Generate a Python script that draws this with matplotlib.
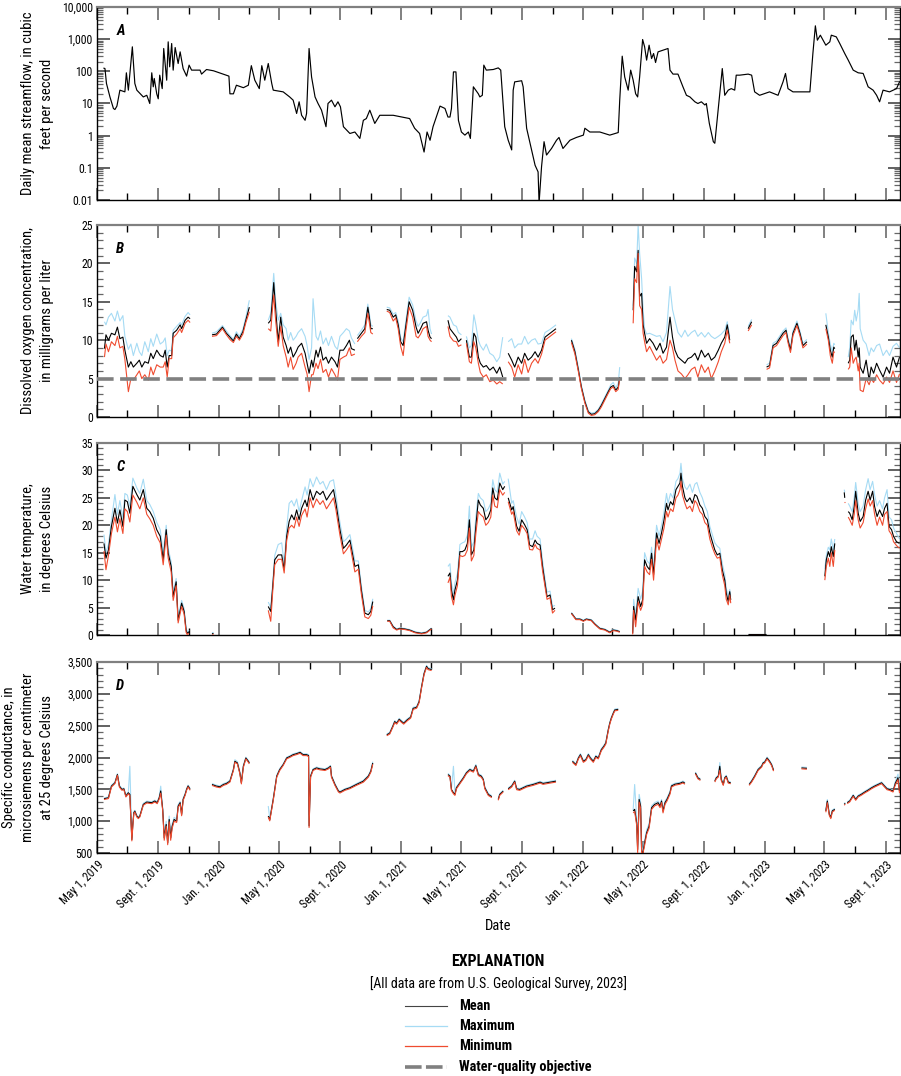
import datetime as dt
import numpy as np
import matplotlib
matplotlib.use("Agg")
import matplotlib.pyplot as plt
import matplotlib.dates as mdates
import matplotlib.ticker as mticker
import matplotlib.font_manager as fm
from matplotlib.lines import Line2D

# ---------------- font selection (condensed sans if available) ----------------
avail = {f.name for f in fm.fontManager.ttflist}
FONT = None
for nm in ["Liberation Sans Narrow", "Roboto Condensed", "Open Sans Condensed"]:
    if nm in avail:
        FONT = nm
        break
STRETCH = "normal"
if FONT is None:
    if any(f.fname.endswith("DejaVuSansCondensed.ttf") for f in fm.fontManager.ttflist):
        FONT = "DejaVu Sans"
        STRETCH = "condensed"
    else:
        FONT = "Liberation Sans"
plt.rcParams["font.family"] = [FONT, "DejaVu Sans"]
plt.rcParams["font.stretch"] = STRETCH

# ---------------- data (day offsets from 2019-05-01) ----------------
START = dt.datetime(2019, 5, 1)
END = dt.datetime(2023, 9, 30)

# Panel A: daily mean streamflow, cfs
flow_day = [14, 16, 19, 26, 33, 36, 40, 46, 56, 59, 63, 71, 76, 80, 93, 100, 106, 110, 113, 115,
            120, 123, 126, 131, 134, 140, 143, 146, 150, 153, 157, 163, 167, 173, 180, 185, 190, 207, 210, 220,
            234, 260, 265, 267, 274, 280, 294, 304, 310, 317, 326, 331, 337, 344, 351, 354, 374, 387, 394, 401,
            406, 411, 418, 421, 426, 431, 438, 444, 451, 460, 464, 471, 478, 484, 489, 495, 508, 518, 528, 535,
            541, 548, 558, 568, 595, 628, 638, 648, 657, 663, 669, 675, 689, 699, 705, 709, 712, 716, 721, 726,
            732, 739, 746, 750, 756, 766, 769, 774, 777, 782, 796, 806, 811, 819, 826, 833, 836, 839, 853, 856,
            863, 873, 880, 886, 888, 893, 898, 903, 913, 923, 928, 936, 950, 963, 977, 980, 990, 1010, 1030, 1047,
            1050, 1055, 1060, 1067, 1072, 1077, 1082, 1086, 1090, 1096, 1100, 1104, 1109, 1114, 1118, 1122, 1127, 1137, 1147, 1151,
            1157, 1167, 1177, 1184, 1191, 1201, 1207, 1214, 1221, 1224, 1230, 1238, 1241, 1244, 1251, 1256, 1261, 1268, 1274, 1281,
            1284, 1291, 1308, 1315, 1321, 1331, 1351, 1368, 1378, 1383, 1388, 1398, 1432, 1438, 1443, 1447, 1453, 1464, 1472, 1475,
            1485, 1492, 1502, 1509, 1519, 1529, 1539, 1549, 1559, 1566, 1572, 1579, 1592, 1606, 1612]
flow_cfs = [125, 122, 42, 16, 7, 6.5, 8.3, 26, 23, 90, 26, 578, 42, 26, 16, 18, 10, 90, 33, 60,
            20, 14, 76, 29, 513, 53, 826, 138, 733, 109, 550, 175, 403, 122, 71, 156, 109, 109, 82, 114,
            104, 76, 71, 20, 20, 37, 31, 37, 150, 53, 29, 150, 53, 175, 42, 26, 23, 16, 12.7, 4.9,
            11.3, 4.3, 3.0, 4.9, 513, 67, 16, 10, 6.2, 1.9, 10, 12.7, 7.9, 11.3, 7.9, 1.9, 1.17, 1.3, 0.82, 3.0,
            3.4, 6.2, 2.4, 4.3, 4.3, 3.4, 1.7, 1.17, 0.31, 1.3, 0.72, 1.9, 8.3, 7, 3.8, 3.8, 7, 96, 96, 3.0,
            1.3, 1.04, 1.3, 0.82, 33, 20, 16, 18, 156, 109, 114, 128, 109, 1.9, 0.72, 0.36, 26, 47, 51, 33,
            1.7, 0.36, 0.12, 0.075, 0.008, 0.11, 0.65, 0.25, 0.4, 0.72, 0.88, 0.4, 0.72, 0.88, 1.04, 1.7, 1.3, 1.3, 1.04, 1.25,
            12.7, 296, 67, 26, 109, 53, 20, 16, 67, 976, 578, 223, 650, 250, 358, 188, 403, 455, 513, 109,
            82, 82, 33, 18, 16, 11.3, 10, 11.3, 9, 10, 2.4, 0.65, 0.58, 1.7, 20, 122, 18, 26, 29, 26,
            76, 76, 82, 76, 23, 18, 23, 18, 47, 86, 29, 23, 23, 358, 2600, 930, 1330, 650, 826, 1330,
            1180, 733, 358, 223, 109, 90, 86, 33, 26, 18, 11.3, 26, 23, 29, 47]

# Panel B: dissolved oxygen, mg/L (segments separated by data gaps)
do_day = [
    [15, 18, 23, 29, 36, 41, 46, 52, 56, 63, 68, 73, 80, 85, 90, 96, 103, 108, 113, 120, 127, 133, 137, 141, 145, 150, 153, 160, 167, 170, 177, 183, 187],
    [231, 240, 252, 260, 267, 274, 280, 286, 293, 299, 306],
    [344, 349, 353, 355, 359, 364, 369, 374, 380, 384, 389, 394, 400, 404, 411, 418, 422, 426, 431, 434, 440, 444, 449, 454, 460, 465, 471, 478, 483, 488, 495, 501, 507, 511, 518],
    [523, 531, 538, 544, 547, 550, 554],
    [582, 588, 595, 600, 605, 610, 615, 620, 627, 634, 641, 645, 650, 655, 662, 665, 669, 672],
    [705, 709, 716, 722, 726, 732],
    [742, 748, 752, 757, 761, 766, 770, 776, 782, 789, 796, 803, 809, 815],
    [826, 833, 839, 846, 853, 859, 866, 873, 880, 886, 893, 900, 910, 922],
    [953, 960, 967, 973, 980, 987, 993, 1000, 1007, 1013, 1020, 1027, 1032, 1037, 1042, 1047, 1050],
    [1077, 1080, 1084, 1087, 1090, 1094, 1097, 1100, 1104, 1110, 1117, 1124, 1131, 1137, 1144, 1151, 1156, 1161, 1167, 1174, 1181, 1187, 1194, 1201, 1207, 1214, 1221, 1228, 1234, 1241, 1248, 1254, 1261, 1266, 1271],
    [1308, 1315],
    [1345, 1351, 1358, 1365, 1371, 1378, 1384, 1388, 1393, 1398, 1406, 1412, 1418, 1426],
    [1464, 1469, 1473, 1477, 1480, 1482],
    [1509, 1512, 1515, 1519, 1522, 1525, 1529, 1531, 1533, 1539, 1545, 1551, 1555, 1560, 1566, 1572, 1579, 1586, 1592, 1599, 1606, 1612],
]
do_mean = [
    [8.9, 10.7, 10.0, 10.9, 10.7, 11.7, 10.2, 10.4, 8.7, 6.5, 7.2, 6.5, 7.0, 7.4, 6.5, 7.2, 7.0, 8.3, 7.6, 8.7, 8.0, 7.8, 8.7, 6.5, 8.0, 8.0, 10.9, 11.3, 12.0, 11.5, 12.6, 13.0, 12.8],
    [10.7, 10.8, 11.7, 10.9, 10.4, 9.9, 10.8, 10.2, 11.1, 12.6, 14.3],
    [12.2, 12.6, 15.7, 17.5, 13.9, 9.8, 13.0, 10.4, 9.3, 8.3, 9.1, 7.8, 8.5, 9.1, 9.6, 8.3, 7.0, 5.7, 7.4, 6.5, 8.7, 7.8, 9.1, 7.4, 7.8, 7.0, 7.8, 7.2, 6.5, 8.7, 8.7, 9.3, 10.0, 8.9, 8.7],
    [10.2, 10.9, 11.5, 14.3, 13.0, 11.5, 11.5],
    [14.0, 13.9, 13.0, 13.3, 12.0, 9.8, 9.3, 11.7, 15.0, 13.9, 11.7, 10.9, 11.5, 12.2, 12.4, 11.3, 10.4, 10.2],
    [12.6, 11.5, 10.9, 10.4, 9.8, 10.2],
    [10.0, 7.8, 7.8, 10.9, 10.4, 7.8, 7.0, 6.5, 6.7, 6.1, 6.5, 5.7, 6.5, 5.2],
    [8.3, 7.4, 6.5, 7.8, 7.0, 8.3, 7.4, 7.8, 8.5, 7.8, 8.7, 10.4, 10.9, 11.5],
    [10.0, 8.5, 6.1, 3.9, 2.0, 0.65, 0.35, 0.43, 0.87, 1.5, 2.4, 3.3, 3.9, 4.1, 3.5, 3.9, 5.2],
    [13.9, 19.6, 18.9, 21.7, 15.7, 16.1, 12.0, 10.9, 9.6, 10.2, 9.6, 8.7, 9.6, 8.3, 9.1, 13.0, 10.4, 8.7, 7.8, 7.4, 7.0, 7.6, 7.8, 8.3, 7.4, 8.7, 7.8, 8.3, 7.4, 7.8, 8.7, 9.6, 10.4, 12.0, 10.0],
    [11.5, 12.4],
    [6.5, 6.7, 9.3, 9.6, 10.2, 10.9, 11.3, 10.0, 8.7, 10.9, 12.2, 10.9, 9.3, 9.8],
    [12.0, 10.4, 8.7, 7.8, 9.1, 8.9],
    [7.0, 7.4, 10.4, 10.7, 8.7, 10.0, 7.8, 9.0, 6.5, 5.7, 7.4, 4.8, 6.5, 5.7, 7.0, 6.1, 5.2, 6.5, 5.7, 7.8, 6.5, 7.8],
]
do_max = [
    [12.4, 12.0, 13.0, 13.5, 12.5, 13.8, 12.5, 13.2, 10.5, 8.8, 9.5, 8.0, 9.6, 8.5, 8.0, 9.8, 8.5, 10.2, 9.2, 10.8, 9.5, 9.8, 10.3, 8.0, 8.7, 8.6, 11.3, 11.8, 12.3, 12.0, 13.1, 13.6, 13.3],
    [10.9, 11.1, 11.9, 11.2, 10.6, 10.1, 11.1, 10.5, 11.4, 13.0, 15.2],
    [12.6, 13.5, 17.0, 18.7, 15.0, 12.6, 13.5, 12.0, 11.5, 10.0, 11.0, 10.0, 10.5, 11.0, 11.5, 10.5, 9.3, 7.5, 9.0, 15.4, 10.5, 10.0, 11.2, 9.5, 10.3, 9.3, 10.5, 9.2, 8.8, 10.5, 11.0, 11.5, 11.2, 10.3, 9.5],
    [10.6, 11.3, 12.0, 14.7, 13.5, 12.0, 11.8],
    [14.3, 14.2, 13.4, 13.6, 12.5, 10.3, 9.8, 12.3, 15.6, 14.6, 12.5, 11.8, 12.3, 13.0, 13.2, 14.0, 11.5, 10.8],
    [13.2, 13.0, 12.0, 11.8, 11.0, 10.7],
    [10.5, 9.0, 9.3, 13.3, 12.0, 10.0, 9.3, 8.7, 9.5, 8.3, 8.0, 7.2, 7.8, 10.4],
    [9.8, 10.2, 9.0, 9.5, 9.5, 10.5, 9.5, 10.0, 10.2, 9.5, 9.6, 11.0, 11.4, 12.0],
    [10.2, 8.8, 6.4, 4.1, 2.2, 0.8, 0.5, 0.6, 1.0, 1.7, 2.6, 3.5, 4.2, 4.5, 3.8, 4.4, 6.5],
    [14.5, 20.7, 20.0, 25.0, 21.3, 18.0, 13.9, 11.5, 10.8, 10.9, 10.7, 10.5, 10.6, 9.8, 11.0, 17.0, 14.0, 12.6, 11.0, 10.4, 11.3, 10.5, 11.0, 11.3, 10.5, 11.0, 10.4, 11.0, 10.5, 10.2, 10.5, 10.8, 11.3, 12.4, 10.5],
    [11.8, 12.7],
    [6.8, 7.0, 9.6, 9.9, 10.5, 11.2, 11.6, 10.3, 9.0, 11.2, 12.5, 11.2, 9.6, 10.1],
    [13.5, 11.0, 9.5, 8.5, 9.6, 9.4],
    [7.8, 9.0, 12.6, 12.0, 13.9, 12.5, 14.0, 16.1, 11.5, 10.0, 9.5, 8.0, 9.0, 8.5, 9.3, 9.5, 8.0, 8.7, 8.0, 9.2, 9.6, 9.0],
]
do_min = [
    [7.8, 9.5, 8.5, 9.8, 9.3, 10.5, 9.0, 9.2, 7.5, 3.3, 5.0, 4.8, 5.5, 6.0, 5.0, 5.5, 4.8, 6.5, 5.5, 6.8, 6.5, 6.5, 7.2, 5.2, 7.6, 7.6, 10.3, 10.8, 11.5, 11.0, 12.2, 12.6, 12.3],
    [10.5, 10.6, 11.5, 10.7, 10.1, 9.7, 10.5, 10.0, 10.8, 12.3, 13.7],
    [11.5, 11.2, 14.5, 15.9, 12.5, 9.2, 11.8, 9.3, 7.8, 6.5, 7.8, 6.2, 7.0, 7.8, 8.3, 6.5, 5.6, 3.3, 5.5, 5.5, 7.0, 6.3, 7.5, 5.8, 6.2, 5.2, 6.3, 5.5, 4.8, 7.5, 7.8, 8.0, 9.0, 8.0, 8.2],
    [9.8, 10.5, 11.0, 13.5, 12.3, 11.0, 10.8],
    [13.8, 13.6, 12.5, 12.9, 11.5, 9.2, 8.0, 11.0, 14.3, 13.0, 10.5, 10.3, 10.8, 11.5, 11.8, 10.5, 10.0, 9.8],
    [11.8, 10.5, 9.9, 9.8, 9.2, 9.4],
    [9.6, 7.2, 7.0, 9.8, 9.0, 7.0, 5.8, 5.2, 5.5, 4.6, 4.8, 4.3, 4.6, 4.3],
    [7.2, 6.5, 5.2, 6.8, 5.6, 7.5, 5.8, 7.0, 7.6, 7.0, 8.2, 10.0, 10.5, 11.1],
    [9.7, 8.2, 5.9, 3.7, 1.8, 0.5, 0.2, 0.3, 0.7, 1.3, 2.2, 3.1, 3.7, 3.9, 3.3, 3.6, 5.0],
    [12.2, 18.0, 17.5, 21.3, 14.5, 14.0, 10.9, 9.8, 8.5, 9.2, 8.3, 7.4, 8.0, 7.0, 7.5, 10.0, 9.0, 7.4, 6.0, 5.6, 5.0, 5.5, 6.2, 6.5, 5.2, 6.8, 5.8, 6.5, 5.0, 6.0, 7.2, 8.5, 9.6, 11.3, 9.6],
    [11.2, 12.0],
    [6.2, 6.4, 9.0, 9.3, 9.9, 10.6, 11.0, 9.7, 8.4, 10.6, 11.9, 10.6, 9.0, 9.5],
    [11.5, 10.0, 8.0, 7.0, 8.5, 8.4],
    [6.2, 6.5, 9.0, 7.0, 7.5, 7.8, 6.0, 7.0, 3.5, 3.3, 5.0, 4.2, 5.0, 4.5, 5.5, 4.8, 4.3, 5.2, 4.5, 6.0, 4.5, 5.6],
]
do_objective = 5.0

# Panel C: water temperature, deg C
wt_day = [
    [14, 18, 23, 29, 36, 41, 46, 52, 56, 61, 66, 72, 80, 86, 93, 100, 106, 113, 120, 127, 133, 139, 143, 149, 153, 159, 163, 170, 175, 179, 181, 185],
    [231, 234],
    [344, 349, 353, 357, 364, 371, 376, 381, 386, 391, 396, 401, 406, 411, 418, 422, 428, 434, 441, 448, 454, 461, 468, 475, 480, 488, 495, 501, 508, 513, 518, 525, 531, 538, 545, 550, 554],
    [583, 588, 595, 602, 608, 618, 628, 639, 652, 662, 672],
    [705, 709, 712, 716, 719, 724, 729, 734, 739, 744, 748, 752, 757, 761, 766, 770, 776, 781, 786, 791, 795, 799, 804, 809, 815, 819],
    [826, 833, 836, 843, 848, 853, 859, 864, 869, 875, 880, 884, 890, 895, 900, 904, 910, 915, 920],
    [953, 962, 970, 977, 983, 993, 1000, 1010, 1020, 1030, 1037, 1044, 1050],
    [1076, 1078, 1082, 1087, 1092, 1096, 1100, 1105, 1110, 1114, 1118, 1124, 1129, 1134, 1139, 1144, 1147, 1152, 1157, 1163, 1167, 1171, 1173, 1176, 1181, 1185, 1191, 1196, 1201, 1205, 1211, 1216, 1221, 1226, 1231, 1236, 1241, 1246, 1251, 1256, 1261, 1264, 1268, 1271, 1273],
    [1308, 1343],
    [1462, 1465, 1469, 1472, 1475, 1479, 1482],
    [1501, 1502],
    [1509, 1512, 1517, 1521, 1524, 1529, 1533, 1539, 1544, 1549, 1553, 1558, 1562, 1567, 1572, 1578, 1582, 1587, 1591, 1596, 1600, 1606, 1612],
]
wt_mean = [
    [16.7, 14.0, 15.5, 19.8, 23.1, 20.4, 22.8, 19.8, 24.6, 24.3, 22.2, 27.1, 25.6, 24.6, 26.5, 23.1, 22.5, 21.3, 19.2, 18.0, 13.7, 19.2, 14.9, 12.5, 7.0, 9.7, 2.7, 5.8, 4.3, 0.9, 0.3, 0.6],
    [0.2, 0.3],
    [5.2, 4.3, 8.8, 13.7, 14.6, 14.6, 11.9, 18.0, 20.7, 21.9, 21.0, 22.8, 21.0, 23.1, 24.6, 23.4, 26.5, 24.6, 26.2, 25.6, 26.2, 24.6, 25.6, 26.5, 24.0, 19.2, 15.8, 16.4, 17.3, 14.9, 12.5, 12.8, 8.2, 4.0, 3.7, 4.3, 6.1],
    [2.6, 2.6, 1.5, 1.0, 1.2, 1.1, 0.9, 0.5, 0.3, 0.5, 1.2],
    [10.7, 11.3, 8.2, 6.4, 8.2, 10.0, 15.2, 15.2, 15.5, 16.7, 21.0, 14.6, 15.5, 19.8, 24.6, 23.7, 23.1, 21.0, 21.6, 22.8, 26.8, 25.0, 24.6, 27.7, 26.5, 27.1],
    [25.0, 22.8, 23.4, 19.8, 18.9, 21.0, 20.1, 19.2, 16.4, 16.1, 17.3, 16.7, 16.4, 12.5, 9.4, 7.0, 7.3, 4.6, 4.9],
    [4.0, 2.9, 2.9, 2.6, 2.9, 2.7, 2.0, 1.2, 1.0, 0.5, 0.9, 0.8, 0.6],
    [0.3, 5.2, 2.7, 7.0, 5.2, 6.4, 13.7, 12.5, 11.9, 14.9, 11.0, 18.6, 16.7, 18.6, 21.0, 24.0, 22.8, 24.3, 23.7, 26.5, 27.1, 27.7, 29.5, 27.1, 25.0, 24.3, 25.0, 24.0, 25.6, 25.3, 23.7, 23.1, 21.6, 21.0, 18.6, 17.0, 15.5, 14.6, 14.9, 11.9, 10.0, 7.6, 6.1, 7.9, 6.4],
    [0.1, 0.1],
    [10.7, 13.7, 15.2, 14.3, 16.1, 14.3, 16.7],
    [26.0, 25.0],
    [22.5, 22.2, 21.0, 23.4, 26.2, 22.2, 20.7, 21.6, 24.6, 26.2, 24.6, 26.2, 23.4, 21.6, 22.8, 21.6, 23.1, 24.0, 19.8, 19.2, 18.0, 17.0, 16.7],
]
wt_max = [
    [18.3, 15.0, 16.5, 21.0, 25.6, 22.0, 24.5, 21.2, 25.8, 25.5, 23.5, 28.6, 26.8, 25.8, 28.4, 24.5, 23.8, 22.5, 20.5, 19.2, 15.0, 20.0, 15.8, 13.3, 7.8, 10.3, 3.3, 6.3, 4.8, 1.3, 0.6, 0.9],
    [0.4, 0.5],
    [6.0, 5.0, 9.5, 14.5, 16.5, 16.8, 13.0, 19.5, 24.0, 24.5, 23.5, 24.8, 22.5, 24.5, 27.0, 25.5, 28.5, 27.0, 28.8, 27.5, 28.0, 26.5, 28.0, 28.3, 25.5, 20.5, 17.0, 17.5, 18.3, 16.0, 13.5, 13.5, 9.0, 4.5, 4.2, 4.8, 6.6],
    [2.7, 2.7, 1.6, 1.1, 1.3, 1.2, 1.0, 0.6, 0.4, 0.6, 1.3],
    [12.5, 13.0, 9.5, 7.5, 9.5, 11.2, 16.5, 16.8, 17.0, 18.2, 23.5, 16.0, 17.0, 21.5, 25.8, 25.0, 24.5, 22.5, 23.0, 24.0, 28.3, 26.5, 26.0, 29.5, 27.5, 28.0],
    [28.5, 24.0, 24.5, 21.5, 20.2, 22.5, 21.5, 20.5, 17.5, 17.5, 19.0, 18.0, 17.5, 13.5, 10.2, 7.8, 8.0, 5.2, 5.4],
    [4.1, 3.0, 3.0, 2.7, 3.0, 2.8, 2.1, 1.3, 1.1, 0.6, 1.0, 0.9, 0.7],
    [0.5, 6.5, 3.5, 8.5, 6.5, 8.0, 15.0, 13.5, 13.0, 16.0, 12.0, 20.0, 18.0, 20.0, 22.5, 25.8, 24.0, 25.8, 25.0, 28.0, 28.5, 29.5, 31.3, 28.5, 27.0, 26.5, 27.5, 26.0, 27.5, 27.8, 26.0, 25.0, 23.5, 22.5, 19.8, 18.3, 16.8, 16.2, 15.8, 13.0, 11.0, 8.5, 7.0, 8.3, 7.0],
    [0.2, 0.2],
    [12.0, 14.5, 16.0, 15.5, 17.5, 15.5, 17.5],
    [26.5, 26.0],
    [24.0, 23.5, 22.5, 25.0, 27.8, 24.0, 22.5, 23.5, 26.5, 28.5, 26.5, 28.0, 25.5, 23.5, 24.5, 23.0, 25.0, 26.5, 21.5, 21.0, 19.5, 18.5, 17.5],
]
wt_min = [
    [15.3, 11.9, 14.5, 18.5, 21.5, 18.8, 21.2, 18.5, 23.0, 22.5, 20.6, 25.5, 24.2, 23.0, 25.0, 22.0, 21.2, 20.0, 18.0, 16.8, 12.8, 18.2, 14.0, 11.5, 6.3, 9.0, 2.2, 5.2, 3.8, 0.5, 0.1, 0.3],
    [0.1, 0.1],
    [4.5, 2.5, 8.0, 12.8, 13.8, 13.8, 11.3, 17.2, 19.5, 20.0, 19.5, 21.5, 19.8, 21.8, 23.0, 21.5, 25.0, 23.2, 24.8, 23.8, 24.5, 23.0, 24.0, 25.0, 22.8, 18.2, 14.8, 15.5, 16.5, 14.0, 11.5, 12.0, 7.5, 3.3, 3.0, 3.6, 5.3],
    [2.5, 2.5, 1.3, 0.9, 1.1, 1.0, 0.8, 0.4, 0.2, 0.4, 1.1],
    [9.5, 10.5, 7.0, 5.5, 7.2, 9.0, 14.5, 14.3, 14.5, 15.5, 19.5, 13.5, 14.5, 18.5, 22.5, 22.0, 21.5, 20.0, 20.5, 21.5, 25.5, 23.5, 23.2, 26.5, 25.5, 26.0],
    [24.3, 22.0, 22.5, 19.0, 18.2, 20.0, 19.3, 18.5, 15.6, 15.5, 16.5, 15.8, 15.5, 11.7, 8.8, 6.5, 6.8, 4.0, 4.5],
    [3.9, 2.8, 2.8, 2.5, 2.8, 2.6, 1.9, 1.1, 0.9, 0.4, 0.8, 0.7, 0.5],
    [0.1, 4.5, 1.5, 6.0, 4.5, 5.5, 12.5, 11.5, 11.0, 13.8, 10.0, 17.5, 15.5, 17.5, 19.5, 22.5, 21.5, 23.0, 22.5, 25.0, 25.5, 26.5, 28.0, 25.5, 24.0, 23.0, 23.5, 22.5, 24.5, 24.0, 22.5, 22.0, 20.5, 20.0, 17.5, 16.0, 14.8, 14.0, 14.2, 11.0, 9.0, 6.5, 5.5, 7.3, 5.8],
    [0.05, 0.05],
    [10.0, 12.5, 14.0, 12.5, 15.0, 12.5, 15.5],
    [24.2, 24.2],
    [21.5, 21.0, 20.0, 22.0, 24.5, 21.0, 19.5, 20.5, 23.0, 24.8, 23.5, 24.5, 22.0, 20.0, 21.5, 20.0, 22.0, 22.5, 19.0, 18.3, 17.0, 16.3, 15.8],
]

# Panel D: specific conductance, uS/cm at 25 deg C
sc_day = [
    [14, 23, 29, 36, 41, 45, 50, 54, 58, 63, 66, 70, 72, 74, 76, 80, 83, 86, 93, 100, 110, 116, 121, 125, 128, 132, 135, 139, 142, 145, 148, 151, 155, 160, 163, 167, 170, 173, 177, 180, 183, 187],
    [231, 240, 247, 254, 260, 267, 274, 277, 282, 287, 290, 294, 299, 304, 306],
    [344, 347, 354, 361, 367, 374, 381, 388, 394, 401, 408, 414, 421, 425, 426, 429, 434, 441, 448, 458, 465, 469, 471, 478, 485, 488, 498, 508, 521, 535, 545, 550, 554],
    [582, 588, 594, 598, 602, 607, 612, 616, 623, 630, 635, 642, 647, 652, 657, 662, 665, 672],
    [705, 709, 712, 716, 719, 722, 729, 736, 742, 749, 756, 761, 766, 772, 776, 779, 786, 793],
    [806, 809, 816],
    [826, 833, 839, 843, 849, 863, 876, 890, 896, 910, 922],
    [955, 962, 967, 971, 977, 982, 987, 991, 997, 1002, 1007, 1013, 1018, 1022, 1027, 1030, 1033, 1037, 1040, 1047],
    [1077, 1080, 1084, 1086, 1089, 1092, 1094, 1096, 1100, 1104, 1109, 1114, 1120, 1127, 1131, 1134, 1137, 1141, 1145, 1151, 1154, 1161, 1171, 1177, 1181],
    [1202, 1207, 1212],
    [1241, 1244, 1248, 1251, 1254, 1258, 1261, 1264, 1268, 1273],
    [1310, 1315, 1321, 1328, 1335, 1338, 1341, 1346, 1351, 1355, 1359],
    [1415, 1426],
    [1464, 1467, 1471, 1474, 1477, 1482],
    [1501, 1503],
    [1507, 1512, 1519, 1524, 1529, 1535, 1542, 1549, 1556, 1562, 1569, 1576, 1582, 1587, 1592, 1599, 1604, 1609, 1612],
]
sc_mean = [
    [1352, 1368, 1550, 1602, 1732, 1550, 1498, 1508, 1394, 1446, 1420, 711, 950, 1132, 1158, 1079, 1053, 1079, 1263, 1300, 1290, 1316, 1290, 1368, 1474, 1184, 737, 948, 658, 1027, 737, 921, 1027, 1000, 1236, 1290, 1105, 1342, 1420, 1500, 1553, 1500],
    [1576, 1550, 1540, 1576, 1592, 1628, 1810, 1940, 1914, 1758, 1602, 1862, 1992, 1940, 1914],
    [1080, 1020, 1342, 1706, 1810, 1888, 1992, 2018, 2044, 2060, 2080, 2044, 2044, 2030, 926, 1706, 1810, 1836, 1820, 1810, 1836, 1862, 1706, 1576, 1472, 1456, 1498, 1524, 1576, 1628, 1706, 1784, 1914],
    [2356, 2382, 2486, 2564, 2538, 2600, 2564, 2538, 2590, 2632, 2772, 2788, 2876, 3110, 3318, 3432, 3396, 3380],
    [1732, 1706, 1498, 1446, 1420, 1524, 1602, 1680, 1758, 1810, 1784, 1872, 1732, 1706, 1654, 1524, 1420, 1384],
    [1342, 1420, 1472],
    [1508, 1550, 1628, 1508, 1498, 1550, 1576, 1612, 1592, 1612, 1628],
    [1940, 1888, 1992, 2044, 1940, 1966, 2044, 1992, 1940, 2018, 1992, 2122, 2174, 2226, 2434, 2538, 2616, 2694, 2746, 2756],
    [1160, 1186, 974, 553, 1342, 1237, 527, 480, 658, 816, 921, 1210, 1263, 1290, 1237, 1316, 1158, 1290, 1342, 1447, 1553, 1580, 1595, 1615, 1595],
    [1758, 1680, 1654],
    [1628, 1680, 1706, 1862, 1654, 1576, 1680, 1706, 1612, 1602],
    [1576, 1628, 1706, 1810, 1862, 1914, 1925, 1992, 1940, 1888, 1800],
    [1836, 1830],
    [1160, 1316, 1108, 1056, 1160, 1186],
    [1264, 1280],
    [1290, 1316, 1404, 1342, 1394, 1420, 1456, 1488, 1524, 1550, 1576, 1602, 1550, 1508, 1498, 1472, 1602, 1680, 1472],
]
sc_max = [
    [1365, 1380, 1565, 1615, 1745, 1565, 1510, 1520, 1410, 1460, 1862, 740, 980, 1150, 1170, 1095, 1065, 1090, 1280, 1315, 1305, 1330, 1305, 1385, 1550, 1200, 800, 1000, 700, 1080, 780, 960, 1060, 1030, 1260, 1310, 1130, 1360, 1435, 1515, 1565, 1515],
    [1590, 1565, 1555, 1590, 1606, 1642, 1825, 1965, 1935, 1775, 1620, 1880, 2005, 1955, 1928],
    [1238, 1040, 1360, 1720, 1825, 1900, 2005, 2030, 2058, 2072, 2092, 2056, 2058, 2045, 1100, 1720, 1822, 1850, 1834, 1822, 1850, 1876, 1722, 1590, 1485, 1468, 1510, 1536, 1590, 1642, 1720, 1800, 1935],
    [2370, 2396, 2500, 2580, 2552, 2615, 2578, 2552, 2605, 2646, 2788, 2802, 2892, 3126, 3334, 3448, 3412, 3395],
    [1750, 1720, 1515, 1862, 1440, 1540, 1616, 1694, 1772, 1824, 1798, 1890, 1748, 1720, 1668, 1540, 1436, 1398],
    [1356, 1434, 1486],
    [1522, 1564, 1642, 1522, 1512, 1564, 1590, 1626, 1606, 1626, 1642],
    [1955, 1902, 2006, 2060, 1956, 1980, 2060, 2008, 1956, 2034, 2006, 2138, 2190, 2242, 2450, 2552, 2630, 2708, 2760, 2770],
    [1176, 1576, 1050, 620, 1420, 1300, 600, 520, 700, 860, 960, 1240, 1290, 1315, 1262, 1340, 1185, 1315, 1365, 1470, 1570, 1596, 1610, 1630, 1610],
    [1772, 1694, 1668],
    [1642, 1694, 1720, 1920, 1670, 1590, 1694, 1720, 1626, 1616],
    [1590, 1642, 1720, 1824, 1876, 1928, 1939, 2006, 1954, 1902, 1814],
    [1850, 1844],
    [1180, 1340, 1125, 1072, 1176, 1200],
    [1278, 1294],
    [1304, 1330, 1418, 1356, 1408, 1434, 1470, 1502, 1538, 1564, 1590, 1616, 1564, 1522, 1512, 1486, 1630, 1740, 1500],
]
sc_min = [
    [1340, 1355, 1535, 1590, 1720, 1535, 1485, 1495, 1380, 1430, 1400, 690, 930, 1115, 1145, 1065, 1040, 1065, 1250, 1285, 1275, 1300, 1275, 1350, 1440, 1165, 700, 920, 630, 990, 700, 890, 1000, 980, 1215, 1270, 1085, 1325, 1405, 1485, 1540, 1485],
    [1562, 1536, 1526, 1562, 1578, 1614, 1795, 1925, 1900, 1743, 1585, 1845, 1978, 1925, 1900],
    [1065, 1005, 1325, 1690, 1795, 1875, 1978, 2004, 2030, 2046, 2066, 2030, 2030, 2015, 900, 1690, 1796, 1822, 1806, 1796, 1822, 1848, 1690, 1562, 1458, 1442, 1484, 1510, 1562, 1612, 1690, 1768, 1895],
    [2342, 2368, 2472, 2548, 2524, 2585, 2550, 2524, 2575, 2618, 2756, 2774, 2860, 3094, 3302, 3416, 3380, 3365],
    [1715, 1690, 1480, 1430, 1405, 1508, 1588, 1666, 1744, 1796, 1770, 1856, 1716, 1690, 1640, 1508, 1404, 1370],
    [1328, 1406, 1458],
    [1494, 1536, 1614, 1494, 1484, 1536, 1562, 1598, 1578, 1598, 1614],
    [1925, 1874, 1978, 2028, 1924, 1952, 2028, 1976, 1924, 2002, 1978, 2106, 2158, 2210, 2418, 2524, 2602, 2680, 2732, 2742],
    [1130, 1150, 940, 500, 1300, 1200, 500, 470, 620, 790, 890, 1185, 1240, 1265, 1212, 1292, 1130, 1265, 1318, 1425, 1535, 1565, 1580, 1600, 1580],
    [1744, 1666, 1640],
    [1614, 1666, 1692, 1800, 1640, 1562, 1666, 1692, 1598, 1588],
    [1562, 1614, 1692, 1796, 1848, 1900, 1911, 1978, 1926, 1874, 1786],
    [1822, 1816],
    [1140, 1290, 1090, 1040, 1144, 1170],
    [1250, 1266],
    [1276, 1302, 1390, 1328, 1380, 1406, 1442, 1474, 1510, 1536, 1562, 1588, 1536, 1494, 1484, 1458, 1580, 1650, 1440],
]

# labels
panel_letters = ["A", "B", "C", "D"]
y_labels = ["Daily mean streamflow, in cubic\nfeet per second",
            "Dissolved oxygen concentration,\nin milligrams per liter",
            "Water temperature,\nin degrees Celsius",
            "Specific conductance, in\nmicrosiemens per centimeter\nat 25 degrees Celsius"]
legend_labels = ["Mean", "Maximum", "Minimum", "Water-quality objective"]
month_names = {1: "Jan.", 5: "May", 9: "Sept."}

# ---------------- styling ----------------
C_MEAN = "#000000"
C_MAX = "#a6dbf4"
C_MIN = "#ef4b2f"
C_OBJ = "#808080"
GRAY = "#808080"
W, H = 901, 1076

fig = plt.figure(figsize=(W / 100, H / 100), dpi=100)

def axbox(top, bottom, left=97, right=900):
    return [left / W, 1 - bottom / H, (right - left) / W, (bottom - top) / H]

axA = fig.add_axes(axbox(7, 200))
axB = fig.add_axes(axbox(225, 417))
axC = fig.add_axes(axbox(443, 635))
axD = fig.add_axes(axbox(662, 853))
axes = [axA, axB, axC, axD]

base = mdates.date2num(START)
xmin, xmax = base, mdates.date2num(END)


def plot_segs(ax, days, vals, color, lw, z):
    for d, v in zip(days, vals):
        if len(d) != len(v):
            raise ValueError(f"length mismatch {len(d)} vs {len(v)} at day {d[0]}")
        ax.plot(base + np.asarray(d, float), np.asarray(v, float), color=color,
                lw=lw, zorder=z, solid_joinstyle="round", solid_capstyle="butt")


# Panel A
axA.plot(base + np.asarray(flow_day, float), flow_cfs, color=C_MEAN, lw=0.85, zorder=3)
axA.set_yscale("log")
axA.set_ylim(0.01, 10000)
axA.yaxis.set_major_locator(mticker.FixedLocator([0.01, 0.1, 1, 10, 100, 1000, 10000]))
axA.yaxis.set_minor_locator(mticker.LogLocator(base=10, subs=np.arange(2, 10)))
axA.yaxis.set_major_formatter(mticker.FuncFormatter(
    lambda v, p: f"{v:,.0f}" if v >= 1 else f"{v:g}"))
axA.yaxis.set_minor_formatter(mticker.NullFormatter())

# Panel B
plot_segs(axB, do_day, do_max, C_MAX, 0.8, 2)
plot_segs(axB, do_day, do_mean, C_MEAN, 0.8, 3)
plot_segs(axB, do_day, do_min, C_MIN, 0.8, 4)
obj = axB.axhline(do_objective, color=C_OBJ, lw=2.6, zorder=5, solid_capstyle="butt")
obj.set_dash_capstyle("butt")
obj.set_linestyle((0, (4.6, 1.8)))
axB.set_ylim(0, 25)
axB.yaxis.set_major_locator(mticker.MultipleLocator(5))
axB.yaxis.set_minor_locator(mticker.MultipleLocator(1))

# Panel C
plot_segs(axC, wt_day, wt_max, C_MAX, 0.8, 2)
plot_segs(axC, wt_day, wt_mean, C_MEAN, 0.8, 3)
plot_segs(axC, wt_day, wt_min, C_MIN, 0.8, 4)
axC.set_ylim(0, 35)
axC.yaxis.set_major_locator(mticker.MultipleLocator(5))
axC.yaxis.set_minor_locator(mticker.MultipleLocator(1))

# Panel D
plot_segs(axD, sc_day, sc_max, C_MAX, 0.8, 2)
plot_segs(axD, sc_day, sc_mean, C_MEAN, 0.8, 3)
plot_segs(axD, sc_day, sc_min, C_MIN, 0.8, 4)
axD.set_ylim(500, 3500)
axD.yaxis.set_major_locator(mticker.MultipleLocator(500))
axD.yaxis.set_minor_locator(mticker.MultipleLocator(100))
axD.yaxis.set_major_formatter(mticker.FuncFormatter(lambda v, p: f"{v:,.0f}"))


def date_fmt(x, pos):
    d = mdates.num2date(x)
    return f"{month_names.get(d.month, d.strftime('%b'))} 1, {d.year}"


for i, ax in enumerate(axes):
    ax.set_xlim(xmin, xmax)
    ax.xaxis.set_major_locator(mdates.MonthLocator(bymonth=[1, 5, 9]))
    ax.xaxis.set_minor_locator(mdates.MonthLocator(bymonth=[3, 7, 11]))
    ax.tick_params(axis="x", which="major", direction="in", length=9, width=1.4,
                   color=GRAY, top=True, bottom=True)
    ax.tick_params(axis="x", which="minor", direction="in", length=5, width=1.0,
                   color="black", top=True, bottom=True)
    ax.tick_params(axis="y", which="major", direction="in", length=9, width=1.3,
                   color="#555555", left=True, right=True, labelsize=8.5, pad=3)
    ax.tick_params(axis="y", which="minor", direction="in", length=4.5, width=0.9,
                   color="#666666", left=True, right=True)
    for s in ["left", "bottom", "right"]:
        ax.spines[s].set_color("black")
        ax.spines[s].set_linewidth(1.0)
    ax.spines["top"].set_color(GRAY)
    ax.spines["top"].set_linewidth(1.6)
    if ax is axD:
        ax.xaxis.set_major_formatter(mticker.FuncFormatter(date_fmt))
        ax.tick_params(axis="x", which="major", labelsize=8.5, pad=4)
        for lab in ax.get_xticklabels():
            lab.set_rotation(45)
            lab.set_ha("right")
            lab.set_va("top")
            lab.set_rotation_mode("anchor")
    else:
        ax.tick_params(axis="x", which="both", labelbottom=False)
    ax.text(0.024, 0.875, panel_letters[i], transform=ax.transAxes, fontsize=10.5,
            fontweight="bold", fontstyle="italic", ha="left", va="center")
    ax.set_ylabel(y_labels[i], fontsize=10.5, linespacing=1.45)
    ax.yaxis.set_label_coords(-43 / 803, 0.5)

# x label
fig.text(498 / W, 1 - 926 / H, "Date", ha="center", va="center", fontsize=10.5)

# ---------------- explanation ----------------
fig.text(498 / W, 1 - 962 / H, "EXPLANATION", ha="center", va="center",
         fontsize=11.3, fontweight="bold")
fig.text(498 / W, 1 - 984 / H, "[All data are from U.S. Geological Survey, 2023]",
         ha="center", va="center", fontsize=10)
rows_y = [1006, 1026, 1046, 1067]
styles = [dict(color="#444444", lw=0.8), dict(color=C_MAX, lw=0.9), dict(color=C_MIN, lw=0.9),
          dict(color=C_OBJ, lw=2.6, linestyle=(0, (4.6, 1.2)), dash_capstyle="butt")]
for yy, lab, st in zip(rows_y, legend_labels, styles):
    fy = 1 - yy / H
    fig.add_artist(Line2D([405 / W, 447 / W], [fy, fy], transform=fig.transFigure, **st))
    fig.text(459 / W, fy, lab, ha="left", va="center", fontsize=10.3, fontweight="bold")

fig.savefig("out.png", dpi=100)
